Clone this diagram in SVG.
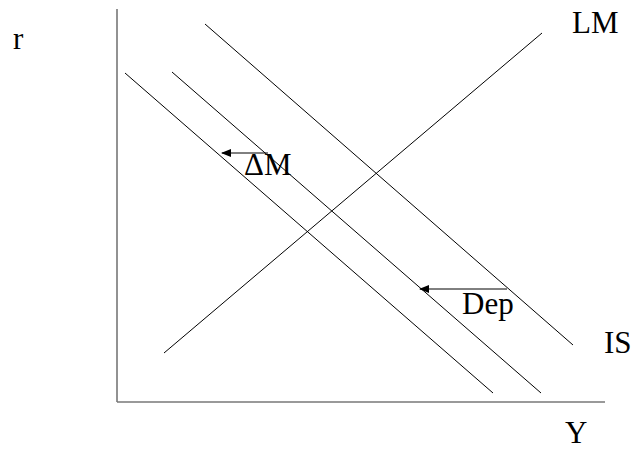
<svg xmlns="http://www.w3.org/2000/svg" width="635" height="450" viewBox="0 0 635 450">
<style>
.axis{stroke:#777;stroke-width:1.6;fill:none}
.curve{stroke:#000;stroke-width:1;fill:none}
.arr{stroke:#000;stroke-width:1;fill:none;marker-end:url(#ah)}
text{font-family:"Liberation Serif","Times New Roman",serif;font-size:31px;fill:#000}
</style>
<defs>
<marker id="ah" markerWidth="10" markerHeight="8" refX="9" refY="4" orient="auto" markerUnits="userSpaceOnUse">
<path d="M0,0 L10,4 L0,8 Z" fill="#000"/>
</marker>
</defs>
<g id="axes">
<line class="axis" x1="117" y1="9" x2="117" y2="402"/>
<line class="axis" x1="117" y1="402" x2="605" y2="402"/>
</g>
<g id="connectors">
<line id="LM" class="curve" x1="164" y1="353" x2="542" y2="33"/>
<line id="IS" class="curve" x1="205" y1="24" x2="573" y2="345"/>
<line id="IS2" class="curve" x1="172" y1="72" x2="541" y2="393"/>
<line id="IS3" class="curve" x1="125" y1="73" x2="493" y2="393"/>
<line class="arr" x1="268" y1="153" x2="222" y2="153"/>
<line class="arr" x1="507" y1="289" x2="420" y2="289"/>
</g>
<g id="labels">
<text x="13" y="49">r</text>
<text x="572" y="33">LM</text>
<text x="604" y="353">IS</text>
<text x="565" y="443">Y</text>
<text x="244" y="175">ΔM</text>
<text x="462" y="314">Dep</text>
</g>
</svg>
